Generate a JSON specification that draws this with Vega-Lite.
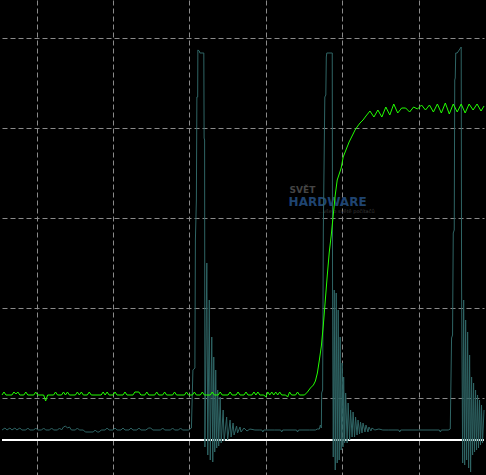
{
  "$schema": "https://vega.github.io/schema/vega-lite/v6.json",
  "width": 486,
  "height": 475,
  "autosize": {"type": "fit", "contains": "padding"},
  "padding": 0,
  "background": "#000000",
  "config": {
    "view": {"stroke": null, "fill": "#000000"},
    "axis": {"labels": false, "ticks": false, "domain": false, "title": null, "grid": true, "gridColor": "#8a8a8a", "gridDash": [5, 3], "gridWidth": 1, "gridOpacity": 1}
  },
  "datasets": {
    "green": [
      {"t":-35,"v":3},{"t":-33,"v":6},{"t":-31,"v":3},{"t":-25,"v":3},{"t":-23,"v":6},{"t":-21,"v":4},{"t":-19,"v":6},{"t":-17,"v":3},{"t":-13,"v":3},{"t":-11,"v":6},{"t":-9,"v":3},{"t":-3,"v":3},{"t":-1,"v":6},{"t":1,"v":3},{"t":7,"v":3},{"t":9,"v":-3},{"t":11,"v":3},{"t":17,"v":3},{"t":19,"v":6},{"t":21,"v":3},{"t":25,"v":3},{"t":27,"v":6},{"t":29,"v":3},{"t":31,"v":6},{"t":33,"v":3},{"t":39,"v":3},{"t":41,"v":6},{"t":43,"v":3},{"t":45,"v":6},{"t":47,"v":3},{"t":51,"v":3},{"t":53,"v":6},{"t":55,"v":3},{"t":65,"v":3},{"t":67,"v":6},{"t":69,"v":3},{"t":71,"v":6},{"t":73,"v":3},{"t":77,"v":3},{"t":79,"v":6},{"t":81,"v":3},{"t":87,"v":3},{"t":89,"v":6},{"t":91,"v":3},{"t":97,"v":3},{"t":99,"v":6},{"t":103,"v":6},{"t":105,"v":3},{"t":109,"v":3},{"t":111,"v":6},{"t":113,"v":3},{"t":119,"v":3},{"t":121,"v":6},{"t":123,"v":3},{"t":127,"v":3},{"t":129,"v":6},{"t":131,"v":3},{"t":137,"v":3},{"t":139,"v":6},{"t":141,"v":3},{"t":149,"v":3},{"t":151,"v":6},{"t":153,"v":3},{"t":157,"v":3},{"t":159,"v":6},{"t":161,"v":3},{"t":165,"v":3},{"t":167,"v":6},{"t":169,"v":3},{"t":175,"v":3},{"t":177,"v":6},{"t":179,"v":3},{"t":183,"v":3},{"t":185,"v":6},{"t":187,"v":3},{"t":193,"v":3},{"t":195,"v":6},{"t":197,"v":3},{"t":201,"v":3},{"t":203,"v":6},{"t":205,"v":3},{"t":209,"v":3},{"t":211,"v":6},{"t":213,"v":3},{"t":217,"v":3},{"t":219,"v":6},{"t":221,"v":3},{"t":223,"v":6},{"t":225,"v":3},{"t":229,"v":3},{"t":231,"v":1},{"t":233,"v":6},{"t":235,"v":3},{"t":237,"v":6},{"t":239,"v":3},{"t":241,"v":6},{"t":243,"v":3},{"t":245,"v":6},{"t":247,"v":3},{"t":251,"v":3},{"t":253,"v":1},{"t":255,"v":6},{"t":257,"v":3},{"t":261,"v":3},{"t":263,"v":6},{"t":265,"v":3},{"t":270,"v":3},{"t":273,"v":6},{"t":276,"v":10},{"t":279,"v":13},{"t":281,"v":17},{"t":283,"v":25},{"t":285,"v":38},{"t":287,"v":52},{"t":289,"v":73},{"t":291,"v":98},{"t":293,"v":123},{"t":295,"v":146},{"t":297,"v":163},{"t":299,"v":183},{"t":301,"v":203},{"t":303,"v":218},{"t":305,"v":224},{"t":307,"v":230},{"t":309,"v":241},{"t":311,"v":246},{"t":313,"v":251},{"t":315,"v":256},{"t":317,"v":260},{"t":319,"v":264},{"t":321,"v":268},{"t":323,"v":271},{"t":326,"v":275},{"t":329,"v":278},{"t":332,"v":282},{"t":336,"v":287},{"t":340,"v":281},{"t":344,"v":288},{"t":348,"v":281},{"t":352,"v":291},{"t":356,"v":283},{"t":360,"v":294},{"t":364,"v":285},{"t":368,"v":290},{"t":372,"v":290},{"t":376,"v":286},{"t":380,"v":291},{"t":384,"v":289},{"t":388,"v":293},{"t":392,"v":288},{"t":396,"v":293},{"t":400,"v":286},{"t":404,"v":294},{"t":408,"v":285},{"t":412,"v":295},{"t":416,"v":284},{"t":420,"v":294},{"t":424,"v":286},{"t":428,"v":294},{"t":432,"v":285},{"t":436,"v":294},{"t":440,"v":288},{"t":444,"v":294},{"t":448,"v":287},{"t":451,"v":292}
    ],
    "teal": [
      {"t":-35,"v":-32},{"t":-32,"v":-30},{"t":-30,"v":-32},{"t":-27,"v":-30},{"t":-25,"v":-32},{"t":-22,"v":-30},{"t":-20,"v":-32},{"t":-17,"v":-30},{"t":-15,"v":-32},{"t":-11,"v":-32},{"t":-9,"v":-30},{"t":-7,"v":-32},{"t":-3,"v":-32},{"t":-1,"v":-30},{"t":1,"v":-32},{"t":5,"v":-32},{"t":7,"v":-30},{"t":9,"v":-32},{"t":13,"v":-32},{"t":15,"v":-30},{"t":17,"v":-32},{"t":21,"v":-32},{"t":23,"v":-30},{"t":25,"v":-32},{"t":27,"v":-29},{"t":29,"v":-28},{"t":31,"v":-30},{"t":33,"v":-29},{"t":35,"v":-32},{"t":39,"v":-32},{"t":41,"v":-30},{"t":43,"v":-32},{"t":47,"v":-32},{"t":49,"v":-34},{"t":57,"v":-34},{"t":59,"v":-32},{"t":61,"v":-34},{"t":63,"v":-34},{"t":65,"v":-32},{"t":69,"v":-32},{"t":71,"v":-30},{"t":73,"v":-32},{"t":77,"v":-32},{"t":79,"v":-30},{"t":81,"v":-32},{"t":85,"v":-32},{"t":87,"v":-30},{"t":89,"v":-32},{"t":93,"v":-32},{"t":95,"v":-30},{"t":97,"v":-32},{"t":101,"v":-32},{"t":103,"v":-30},{"t":105,"v":-32},{"t":110,"v":-32},{"t":113,"v":-30},{"t":115,"v":-30},{"t":117,"v":-32},{"t":125,"v":-32},{"t":127,"v":-30},{"t":129,"v":-32},{"t":135,"v":-32},{"t":137,"v":-30},{"t":139,"v":-32},{"t":143,"v":-32},{"t":145,"v":-30},{"t":147,"v":-32},{"t":153,"v":-32},{"t":156,"v":-30},
      {"t":157.5,"v":28},{"t":159.5,"v":30},{"t":160,"v":158},{"t":161,"v":198},{"t":161.5,"v":301},{"t":162.3,"v":301},{"t":162.5,"v":348},{"t":164,"v":347},{"t":164.5,"v":345},{"t":168.5,"v":345},{"t":168.8,"v":260},{"t":169.3,"v":258},{"t":169.6,"v":-49},
      {"t":171.5,"v":135},{"t":172.5,"v":-57},{"t":174,"v":98},{"t":175,"v":-62},{"t":176.5,"v":61},{"t":177.5,"v":-64},{"t":178.5,"v":41},{"t":179.5,"v":-54},{"t":180.5,"v":28},{"t":181.5,"v":-50},{"t":182.5,"v":8},{"t":183.5,"v":-48},{"t":185,"v":1},{"t":186,"v":-45},{"t":188,"v":-12},{"t":189,"v":-43},{"t":191.5,"v":-19},{"t":192.5,"v":-42},{"t":195,"v":-22},{"t":196,"v":-39},{"t":198,"v":-25},{"t":199,"v":-37},{"t":201.5,"v":-28},{"t":202.5,"v":-35},{"t":205,"v":-29},{"t":206,"v":-34},{"t":209,"v":-30},{"t":212,"v":-33},{"t":215,"v":-31},
      {"t":220,"v":-32},{"t":225,"v":-32},{"t":227,"v":-32},{"t":228,"v":-34},{"t":229,"v":-32},{"t":240,"v":-32},{"t":246,"v":-32},{"t":247,"v":-34},{"t":248,"v":-32},{"t":262,"v":-32},{"t":263,"v":-34},{"t":264,"v":-32},{"t":275,"v":-32},{"t":281,"v":-32},{"t":283,"v":-31},{"t":285,"v":-31},{"t":286,"v":-27},{"t":287,"v":-30},
      {"t":287.3,"v":5},{"t":288.3,"v":8},{"t":289,"v":168},{"t":290.5,"v":301},{"t":291.5,"v":303},{"t":292,"v":341},{"t":292.5,"v":345},{"t":298,"v":345},{"t":298.3,"v":108},
      {"t":299,"v":-59},{"t":300,"v":108},{"t":301,"v":-72},{"t":302,"v":105},{"t":303,"v":-65},{"t":304,"v":88},{"t":305,"v":-62},{"t":306,"v":61},{"t":307,"v":-52},{"t":308,"v":35},{"t":308.8,"v":-49},{"t":309.5,"v":21},{"t":310.5,"v":-45},{"t":311.5,"v":5},{"t":313,"v":-45},{"t":314,"v":-5},{"t":315.5,"v":-42},{"t":316.5,"v":-12},{"t":318,"v":-39},{"t":319,"v":-14},{"t":320.5,"v":-39},{"t":321.5,"v":-19},{"t":323,"v":-37},{"t":324,"v":-22},{"t":325.5,"v":-36},{"t":326.5,"v":-24},{"t":328,"v":-35},{"t":329,"v":-25},{"t":331,"v":-34},{"t":332,"v":-27},{"t":334,"v":-34},{"t":335,"v":-29},{"t":337,"v":-33},{"t":338,"v":-30},
      {"t":341,"v":-32},{"t":345,"v":-31},{"t":349,"v":-32},{"t":355,"v":-32},{"t":365,"v":-32},{"t":366,"v":-34},{"t":367,"v":-32},{"t":385,"v":-32},{"t":406,"v":-32},{"t":407,"v":-34},{"t":408,"v":-32},{"t":415,"v":-32},{"t":417,"v":-31},
      {"t":418.3,"v":60},{"t":419.3,"v":63},{"t":420,"v":165},{"t":421,"v":168},{"t":421.5,"v":318},{"t":422,"v":320},{"t":422.5,"v":345},{"t":424,"v":345},{"t":426,"v":348},{"t":428,"v":351},{"t":428.4,"v":111},
      {"t":429.5,"v":-65},{"t":430.5,"v":98},{"t":431.5,"v":-67},{"t":432.5,"v":78},{"t":433.5,"v":-62},{"t":434.5,"v":66},{"t":435.5,"v":-70},{"t":436.5,"v":43},{"t":437.5,"v":-74},{"t":438.5,"v":21},{"t":439.5,"v":-57},{"t":440.5,"v":15},{"t":441.5,"v":-54},{"t":442.5,"v":8},{"t":443.5,"v":-52},{"t":444.5,"v":3},{"t":445.5,"v":-50},{"t":446.5,"v":-2},{"t":447.5,"v":-47},{"t":448.5,"v":-7},{"t":449.5,"v":-45},{"t":451,"v":-12}
    ],
    "reference": [{"v": -42}],
    "brand1": [{"label": "SVĚT", "t": 255, "v": 208}],
    "brand2": [{"label": "HARDWARE", "t": 254, "v": 196.5}],
    "brand3": [{"label": "...vše o světě počítačů", "t": 284, "v": 187}]
  },
  "encoding": {
    "x": {"field": "t", "type": "quantitative", "scale": {"domain": [-35, 451], "nice": false, "zero": false}, "axis": {"values": [0, 77, 154, 231, 308, 385]}},
    "y": {"field": "v", "type": "quantitative", "scale": {"domain": [-77, 398], "nice": false, "zero": false}, "axis": {"values": [0, 90, 180, 270, 360]}}
  },
  "layer": [
    {"data": {"name": "brand1"}, "mark": {"type": "text", "align": "left", "baseline": "middle", "font": "DejaVu Sans", "fontWeight": "bold", "fontSize": 9, "color": "#454545"}, "encoding": {"text": {"field": "label"}}},
    {"data": {"name": "brand2"}, "mark": {"type": "text", "align": "left", "baseline": "middle", "font": "DejaVu Sans", "fontWeight": "bold", "fontSize": 12, "color": "#1f4470"}, "encoding": {"text": {"field": "label"}}},
    {"data": {"name": "brand3"}, "mark": {"type": "text", "align": "left", "baseline": "middle", "font": "DejaVu Sans", "fontSize": 5, "color": "#3a3a3a"}, "encoding": {"text": {"field": "label"}}},
    {"data": {"name": "reference"}, "mark": {"type": "rule", "color": "#ffffff", "strokeWidth": 2}, "encoding": {"x": null}},
    {"data": {"name": "teal"}, "mark": {"type": "line", "color": "#2f6565", "strokeWidth": 1, "interpolate": "linear"}},
    {"data": {"name": "green"}, "mark": {"type": "line", "color": "#22ff00", "strokeWidth": 1, "interpolate": "linear"}}
  ]
}
